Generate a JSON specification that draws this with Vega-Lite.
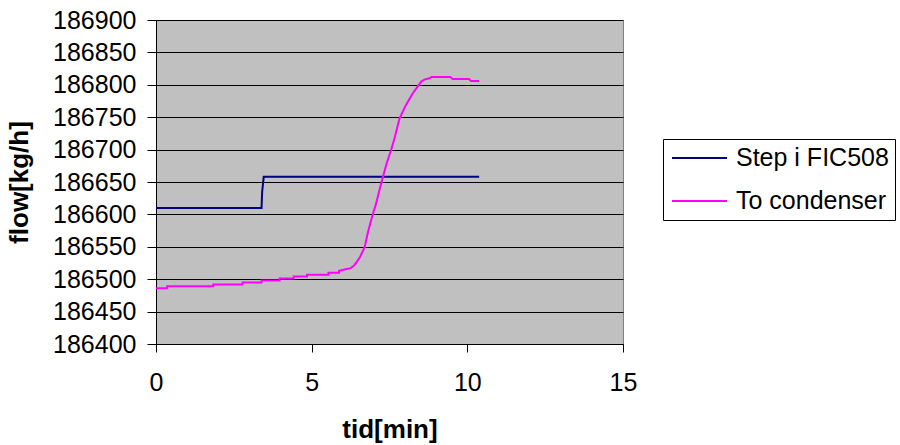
{
  "$schema": "https://vega.github.io/schema/vega-lite/v6.json",
  "width": 467,
  "height": 324,
  "autosize": {"type": "none"},
  "padding": {"left": 156, "top": 20, "right": 277, "bottom": 101},
  "background": "white",
  "config": {
    "font": "Liberation Sans",
    "view": {"fill": "#C0C0C0", "stroke": "#808080", "strokeWidth": 1}
  },
  "data": {
    "values": [
      {"series": "Step i FIC508", "i": 1, "t": 0, "flow": 186610},
      {"series": "Step i FIC508", "i": 2, "t": 3.39, "flow": 186610},
      {"series": "Step i FIC508", "i": 3, "t": 3.41, "flow": 186635},
      {"series": "Step i FIC508", "i": 4, "t": 3.46, "flow": 186658},
      {"series": "Step i FIC508", "i": 5, "t": 10.38, "flow": 186658},
      {"series": "To condenser", "i": 1, "t": 0, "flow": 186486},
      {"series": "To condenser", "i": 2, "t": 0.36, "flow": 186486},
      {"series": "To condenser", "i": 3, "t": 0.36, "flow": 186489},
      {"series": "To condenser", "i": 4, "t": 1.84, "flow": 186489},
      {"series": "To condenser", "i": 5, "t": 1.84, "flow": 186492},
      {"series": "To condenser", "i": 6, "t": 2.78, "flow": 186492},
      {"series": "To condenser", "i": 7, "t": 2.78, "flow": 186495},
      {"series": "To condenser", "i": 8, "t": 3.39, "flow": 186495},
      {"series": "To condenser", "i": 9, "t": 3.39, "flow": 186498},
      {"series": "To condenser", "i": 10, "t": 3.97, "flow": 186498},
      {"series": "To condenser", "i": 11, "t": 3.97, "flow": 186501},
      {"series": "To condenser", "i": 12, "t": 4.42, "flow": 186501},
      {"series": "To condenser", "i": 13, "t": 4.42, "flow": 186504},
      {"series": "To condenser", "i": 14, "t": 4.85, "flow": 186504},
      {"series": "To condenser", "i": 15, "t": 4.85, "flow": 186507},
      {"series": "To condenser", "i": 16, "t": 5.54, "flow": 186507},
      {"series": "To condenser", "i": 17, "t": 5.54, "flow": 186510},
      {"series": "To condenser", "i": 18, "t": 5.88, "flow": 186510},
      {"series": "To condenser", "i": 19, "t": 5.88, "flow": 186513},
      {"series": "To condenser", "i": 20, "t": 6.06, "flow": 186515},
      {"series": "To condenser", "i": 21, "t": 6.25, "flow": 186517},
      {"series": "To condenser", "i": 22, "t": 6.38, "flow": 186522},
      {"series": "To condenser", "i": 23, "t": 6.54, "flow": 186533},
      {"series": "To condenser", "i": 24, "t": 6.70, "flow": 186549},
      {"series": "To condenser", "i": 25, "t": 6.80, "flow": 186571},
      {"series": "To condenser", "i": 26, "t": 6.91, "flow": 186591},
      {"series": "To condenser", "i": 27, "t": 7.07, "flow": 186617},
      {"series": "To condenser", "i": 28, "t": 7.18, "flow": 186638},
      {"series": "To condenser", "i": 29, "t": 7.29, "flow": 186658},
      {"series": "To condenser", "i": 30, "t": 7.41, "flow": 186679},
      {"series": "To condenser", "i": 31, "t": 7.55, "flow": 186699},
      {"series": "To condenser", "i": 32, "t": 7.66, "flow": 186717},
      {"series": "To condenser", "i": 33, "t": 7.82, "flow": 186748},
      {"series": "To condenser", "i": 34, "t": 8.03, "flow": 186769},
      {"series": "To condenser", "i": 35, "t": 8.25, "flow": 186787},
      {"series": "To condenser", "i": 36, "t": 8.52, "flow": 186805},
      {"series": "To condenser", "i": 37, "t": 8.62, "flow": 186808},
      {"series": "To condenser", "i": 38, "t": 8.78, "flow": 186810},
      {"series": "To condenser", "i": 39, "t": 8.85, "flow": 186812},
      {"series": "To condenser", "i": 40, "t": 9.45, "flow": 186812},
      {"series": "To condenser", "i": 41, "t": 9.53, "flow": 186809},
      {"series": "To condenser", "i": 42, "t": 10.05, "flow": 186809},
      {"series": "To condenser", "i": 43, "t": 10.12, "flow": 186806},
      {"series": "To condenser", "i": 44, "t": 10.38, "flow": 186806}
    ]
  },
  "mark": {"type": "line", "strokeWidth": 2, "clip": true},
  "encoding": {
    "x": {
      "field": "t",
      "type": "quantitative",
      "scale": {"domain": [0, 15], "nice": false, "zero": false},
      "axis": {
        "title": "tid[min]",
        "values": [0, 5, 10, 15],
        "grid": false,
        "domainColor": "black",
        "tickColor": "black",
        "tickSize": 8,
        "labelFontSize": 25,
        "labelColor": "black",
        "labelPadding": 18,
        "labelFlush": false,
        "titleFontSize": 26,
        "titleFontWeight": "bold",
        "titleColor": "black",
        "titlePadding": 21
      }
    },
    "y": {
      "field": "flow",
      "type": "quantitative",
      "scale": {"domain": [186400, 186900], "nice": false, "zero": false},
      "axis": {
        "title": "flow[kg/h]",
        "values": [186400, 186450, 186500, 186550, 186600, 186650, 186700, 186750, 186800, 186850, 186900],
        "format": "d",
        "grid": true,
        "gridColor": "black",
        "gridOpacity": 1,
        "gridWidth": 1,
        "domainColor": "black",
        "tickColor": "black",
        "tickSize": 9,
        "labelFontSize": 25,
        "labelColor": "black",
        "labelPadding": 11,
        "labelFlush": false,
        "titleFontSize": 26,
        "titleFontWeight": "bold",
        "titleColor": "black",
        "titlePadding": 20
      }
    },
    "color": {
      "field": "series",
      "type": "nominal",
      "scale": {"domain": ["Step i FIC508", "To condenser"], "range": ["#000080", "#FF00FF"]},
      "legend": {
        "title": null,
        "orient": "none",
        "legendX": 507,
        "legendY": 119,
        "strokeColor": "black",
        "fillColor": "white",
        "padding": 6,
        "symbolType": "stroke",
        "symbolSize": 3025,
        "symbolStrokeWidth": 2,
        "symbolOffset": 2,
        "clipHeight": 26,
        "labelFontSize": 25,
        "labelColor": "black",
        "labelOffset": 8,
        "rowPadding": 17
      }
    },
    "order": {"field": "i", "type": "quantitative"}
  }
}
